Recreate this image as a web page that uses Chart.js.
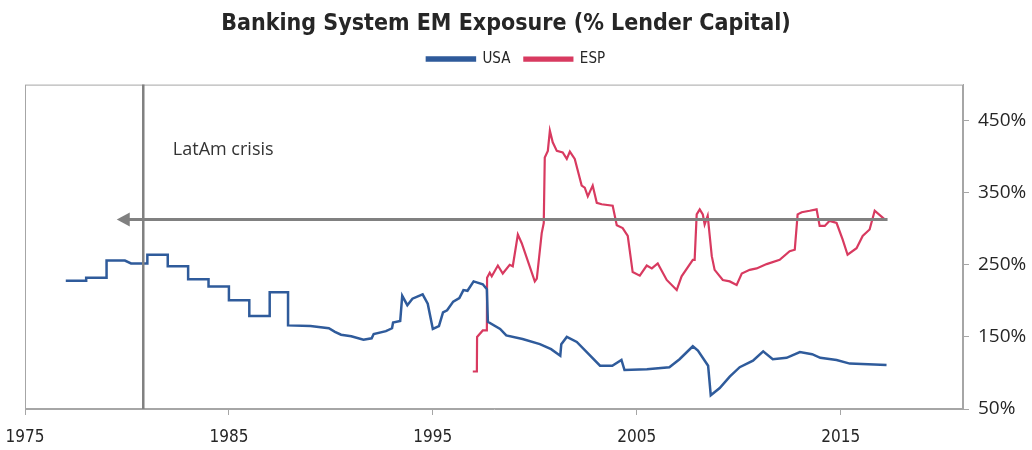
<!DOCTYPE html>
<html>
<head>
<meta charset="utf-8">
<script src="https://cdn.jsdelivr.net/npm/chart.js@4.4.1/dist/chart.umd.min.js"></script>
<style>
  html, body { margin: 0; padding: 0; background: #ffffff; }
  #wrap { width: 1032px; height: 450px; }
</style>
</head>
<body>
<div id="wrap"><canvas id="chart" width="1032" height="450"></canvas></div>
<script>
// Banking system EM exposure, % of lender capital (x = fractional year)
const usaYears = [1977.0, 1978.0, 1978.0, 1979.0, 1979.0, 1979.9, 1980.2, 1981.0, 1981.0, 1982.0, 1982.0, 1983.0,
  1983.0, 1984.0, 1984.0, 1985.0, 1985.0, 1986.0, 1986.0, 1987.0, 1987.0, 1987.9, 1987.9, 1989.0, 1989.9, 1990.2,
  1990.5, 1991.0, 1991.6, 1992.0, 1992.1, 1992.7, 1993.0, 1993.05, 1993.4, 1993.5, 1993.75, 1994.0, 1994.5, 1994.75,
  1995.0, 1995.3, 1995.5, 1995.7, 1996.0, 1996.3, 1996.5, 1996.7, 1997.0, 1997.45, 1997.65, 1997.7, 1998.3, 1998.6,
  1999.4, 2000.25, 2000.8, 2001.25, 2001.3, 2001.57, 2002.06, 2003.2, 2003.8, 2004.25, 2004.4, 2005.5, 2006.6,
  2007.1, 2007.75, 2008.0, 2008.5, 2008.63, 2009.07, 2009.56, 2010.05, 2010.7, 2011.2, 2011.67, 2012.35, 2013.0,
  2013.6, 2014.0, 2014.8, 2015.45, 2017.25];
const usaValues = [228, 228, 232, 232, 256, 256, 252, 252, 264, 264, 248, 248,
  230, 230, 220, 220, 201, 201, 179, 179, 212, 212, 166, 165, 162, 157,
  153, 151, 146, 148, 154, 158, 162, 170, 172, 207, 194, 203, 209, 196,
  161, 165, 184, 187, 199, 204, 215, 214, 227, 223, 216, 171, 161, 152,
  147, 140, 133, 124, 140, 150, 143, 110, 110, 118, 104, 105, 108,
  119, 137, 131, 110, 69, 79, 95, 108, 117, 130, 119, 121, 129,
  126, 121, 118, 113, 111];

const espYears = [1996.96, 1997.16, 1997.17, 1997.45, 1997.65, 1997.66, 1997.79, 1997.89, 1998.19, 1998.43, 1998.77,
  1998.92, 1999.17, 1999.36, 2000.0, 2000.1, 2000.34, 2000.44, 2000.49, 2000.64, 2000.74, 2000.88, 2001.08, 2001.37,
  2001.57, 2001.72, 2001.96, 2002.3, 2002.45, 2002.6, 2002.84, 2003.04, 2003.28, 2003.82, 2004.02, 2004.31, 2004.56,
  2004.8, 2005.15, 2005.49, 2005.74, 2006.03, 2006.47, 2006.96, 2007.2, 2007.75, 2007.84, 2007.94, 2008.09, 2008.24,
  2008.33, 2008.48, 2008.68, 2008.82, 2009.22, 2009.56, 2009.9, 2010.15, 2010.54, 2010.88, 2011.37, 2012.01, 2012.5,
  2012.75, 2012.89, 2013.09, 2013.48, 2013.82, 2013.97, 2014.22, 2014.46, 2014.8, 2015.1, 2015.34, 2015.78, 2016.08,
  2016.42, 2016.67, 2017.16];
const espValues = [102, 102, 150, 159, 159, 232, 239, 234, 249, 238, 250,
  248, 292, 280, 227, 231, 294, 308, 399, 408, 436, 420, 408, 406,
  397, 407, 397, 360, 357, 345, 360, 336, 334, 332, 305, 301, 290,
  240, 235, 249, 245, 252, 229, 215, 234, 257, 257, 320, 327, 320,
  306, 318, 262, 243, 229, 227, 222, 238, 243, 245, 251, 257, 269,
  271, 320, 323, 325, 327, 304, 304, 311, 308, 285, 264, 273, 290,
  299, 325, 313];

const xTickYears = [1975, 1985, 1995, 2005, 2015];
const yTickValues = [50, 150, 250, 350, 450];

// LatAm crisis marker and the reference level carried back to it
const crisisYear = 1980.8;
const crisisLabel = 'LatAm crisis';
const crisisLabelAt = { x: 1982.25, y: 410 };
const arrowLevel = 313;
const arrowFrom = 2017.3;
const arrowTo = 1979.5;

const pairs = (xs, ys) => xs.map((x, i) => ({ x: x, y: ys[i] }));

// extra room between the legend row and the plot; title centred a little left
const headerTweaks = {
  id: 'headerTweaks',
  beforeInit(chart) {
    const fit = chart.legend.fit;
    chart.legend.fit = function () {
      fit.bind(chart.legend)();
      this.height += 8;
    };
  },
  afterLayout(chart) {
    if (chart.titleBlock) {
      chart.titleBlock.left = 0;
      chart.titleBlock.right = chart.width - 20;
    }
  }
};

const frameAndNotes = {
  id: 'frameAndNotes',
  afterDatasetsDraw(chart) {
    const { ctx, chartArea: a, scales } = chart;
    const xs = scales.x, ys = scales.y;
    ctx.save();
    // plot frame
    ctx.strokeStyle = '#a6a6a6';
    ctx.lineWidth = 1;
    ctx.strokeRect(a.left + 0.5, a.top + 0.5, a.right - a.left - 1, a.bottom - a.top - 1);

    // vertical crisis line
    const cx = xs.getPixelForValue(crisisYear);
    ctx.strokeStyle = '#808080';
    ctx.lineWidth = 2.5;
    ctx.beginPath();
    ctx.moveTo(cx, a.top);
    ctx.lineTo(cx, a.bottom);
    ctx.stroke();

    // horizontal arrow
    const ay = ys.getPixelForValue(arrowLevel);
    const x0 = xs.getPixelForValue(arrowFrom);
    const x1 = xs.getPixelForValue(arrowTo);
    ctx.lineWidth = 3;
    ctx.beginPath();
    ctx.moveTo(x0, ay);
    ctx.lineTo(x1 + 10, ay);
    ctx.stroke();
    ctx.fillStyle = '#808080';
    ctx.beginPath();
    ctx.moveTo(x1, ay);
    ctx.lineTo(x1 + 13, ay - 7);
    ctx.lineTo(x1 + 13, ay + 7);
    ctx.closePath();
    ctx.fill();

    // label
    ctx.fillStyle = '#333333';
    ctx.font = '18px "Open Sans", sans-serif';
    ctx.textAlign = 'left';
    ctx.textBaseline = 'middle';
    ctx.fillText(crisisLabel, xs.getPixelForValue(crisisLabelAt.x), ys.getPixelForValue(crisisLabelAt.y));
    ctx.restore();
  }
};

const condensed = '"DejaVu Sans Condensed", "Roboto", sans-serif';

new Chart(document.getElementById('chart'), {
  type: 'line',
  data: {
    datasets: [
      {
        label: 'USA',
        data: pairs(usaYears, usaValues),
        borderColor: '#2f5b9b',
        backgroundColor: '#2f5b9b',
        borderWidth: 2.5,
        pointRadius: 0,
        tension: 0
      },
      {
        label: 'ESP',
        data: pairs(espYears, espValues),
        borderColor: '#d83a60',
        backgroundColor: '#d83a60',
        borderWidth: 2.2,
        pointRadius: 0,
        tension: 0
      }
    ]
  },
  options: {
    responsive: false,
    animation: false,
    devicePixelRatio: 1,
    layout: { padding: { left: 0, right: 0, top: 0, bottom: 0 } },
    plugins: {
      title: {
        display: true,
        text: 'Banking System EM Exposure (% Lender Capital)',
        color: '#262626',
        font: { family: condensed, size: 23, weight: 'bold' },
        padding: { top: 10, bottom: 0 }
      },
      legend: {
        display: true,
        labels: {
          color: '#262626',
          font: { family: condensed, size: 15 },
          boxWidth: 48,
          boxHeight: 3,
          padding: 14
        }
      },
      tooltip: { enabled: false }
    },
    scales: {
      x: {
        type: 'linear',
        min: 1975,
        max: 2021,
        afterBuildTicks: (s) => { s.ticks = xTickYears.map(v => ({ value: v })); },
        afterFit: (s) => { s.height = 41; s.paddingLeft = 25; s.paddingRight = 0; },
        ticks: {
          color: '#262626',
          font: { family: condensed, size: 17 },
          padding: 12,
          maxRotation: 0,
          callback: (v) => String(v)
        },
        grid: { display: true, drawOnChartArea: false, drawTicks: true, tickLength: 6, color: '#a6a6a6' },
        border: { display: true, color: '#a6a6a6' }
      },
      y: {
        type: 'linear',
        position: 'right',
        min: 50,
        max: 500,
        afterBuildTicks: (s) => { s.ticks = yTickValues.map(v => ({ value: v })); },
        afterFit: (s) => { s.width = 69; },
        ticks: {
          color: '#262626',
          font: { family: '"Open Sans", sans-serif', size: 19 },
          padding: 9,
          callback: (v) => v + '%'
        },
        grid: { display: true, drawOnChartArea: false, drawTicks: true, tickLength: 6, color: '#a6a6a6' },
        border: { display: true, color: '#a6a6a6' }
      }
    }
  },
  plugins: [headerTweaks, frameAndNotes]
});
</script>
</body>
</html>
